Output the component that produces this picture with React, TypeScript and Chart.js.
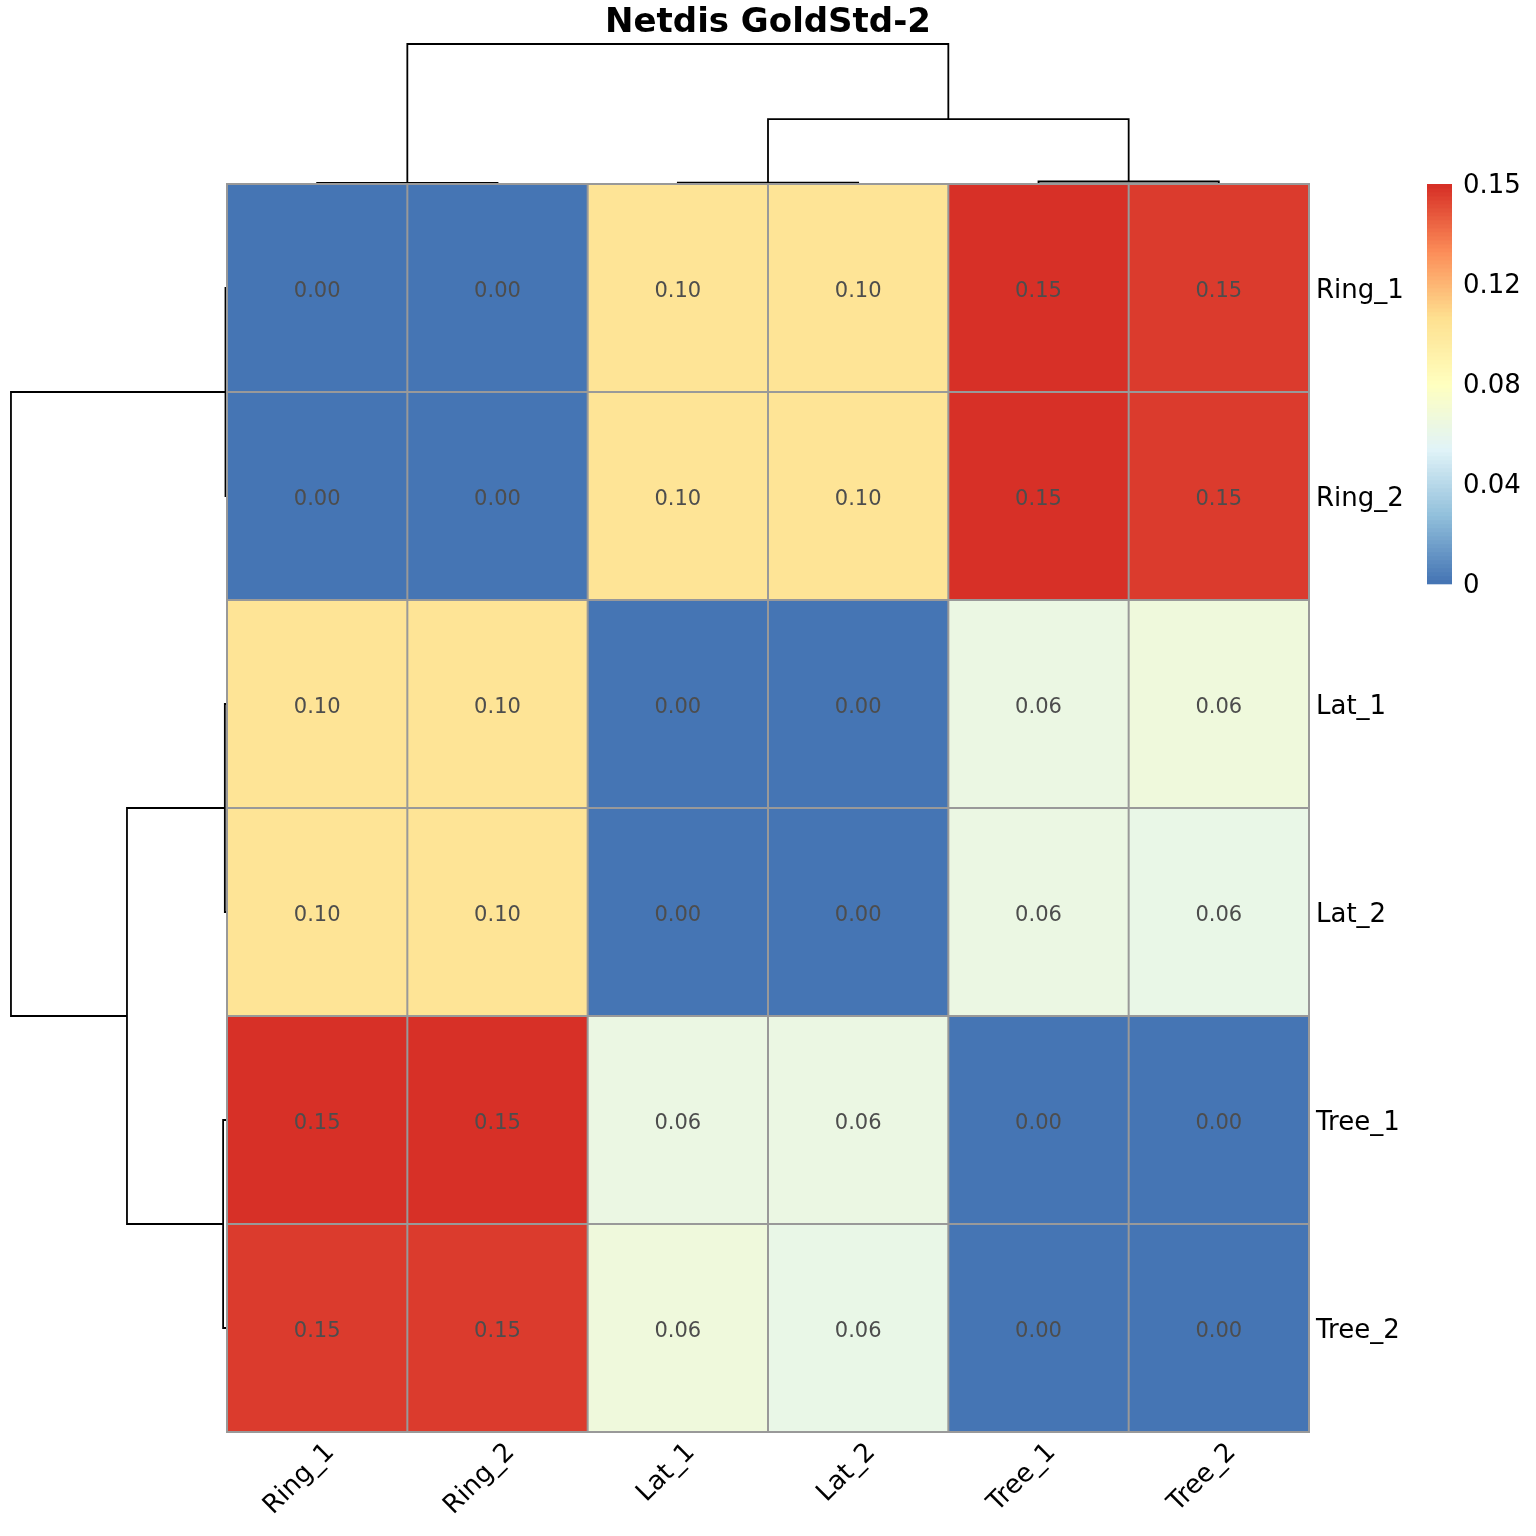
import React, { useEffect, useRef } from "react";
import { Chart, registerables } from "chart.js";

Chart.register(...registerables);

// ---------- data ----------
const title = "Netdis GoldStd-2";
const labels = ["Ring_1", "Ring_2", "Lat_1", "Lat_2", "Tree_1", "Tree_2"];

const ring1 = [0, 0, 0.097, 0.097, 0.15, 0.146];
const ring2 = [0, 0, 0.097, 0.097, 0.15, 0.146];
const lat1 = [0.097, 0.097, 0, 0, 0.0587, 0.0625];
const lat2 = [0.097, 0.097, 0, 0, 0.0588, 0.0578];
const tree1 = [0.15, 0.15, 0.0587, 0.0588, 0, 0];
const tree2 = [0.146, 0.146, 0.0625, 0.0578, 0, 0];
const rows = [ring1, ring2, lat1, lat2, tree1, tree2];

// hclust-style merges: negative = leaf (1-based), positive = earlier merge step (1-based)
const mergeLeft = [-1, -3, -5, 2, 1];
const mergeRight = [-2, -4, -6, 3, 4];
const mergeHeight = [0.007, 0.01, 0.018, 0.463, 1.0];

const legendTickValues = [0, 0.0375, 0.075, 0.1125, 0.15];
const legendTickLabels = ["0", "0.04", "0.08", "0.12", "0.15"];

// ---------- styling ----------
const colorMin = 0;
const colorMax = 0.15;
const palette = ["#4575B4", "#91BFDB", "#E0F3F8", "#FFFFBF", "#FEE090", "#FC8D59", "#D73027"];
const NCOL = 100;
const FONT = '"DejaVu Sans", "Liberation Sans", sans-serif';
const COL_DENDRO_SPAN = 0.673; // y-units for the tallest merge
const ROW_DENDRO_SPAN = 1.198; // x-units for the tallest merge

function hexToRgb(h: string) {
  const n = parseInt(h.slice(1), 16);
  return [(n >> 16) & 255, (n >> 8) & 255, n & 255];
}
const ramp: string[] = (() => {
  const cs = palette.map(hexToRgb);
  const out: string[] = [];
  for (let i = 0; i < NCOL; i++) {
    const t = (i / (NCOL - 1)) * (cs.length - 1);
    const k = Math.min(cs.length - 2, Math.floor(t));
    const f = t - k;
    const c = cs[k].map((v, j) => Math.round(v + (cs[k + 1][j] - v) * f));
    out.push(`rgb(${c[0]},${c[1]},${c[2]})`);
  }
  return out;
})();
function colorFor(v: number) {
  const idx = Math.max(0, Math.min(NCOL - 1, Math.floor(((v - colorMin) / (colorMax - colorMin)) * NCOL)));
  return ramp[idx];
}

type Link = { pl: number; pr: number; hl: number; hr: number; h: number };
function buildLinks(): Link[] {
  const pos: number[] = [];
  const hts: number[] = [];
  const links: Link[] = [];
  const p = (k: number) => (k < 0 ? -k - 1 + 0.5 : pos[k - 1]);
  const hh = (k: number) => (k < 0 ? 0 : hts[k - 1]);
  mergeLeft.forEach((l, i) => {
    const r = mergeRight[i];
    const pl = p(l);
    const pr = p(r);
    pos[i] = (pl + pr) / 2;
    hts[i] = mergeHeight[i];
    links.push({ pl, pr, hl: hh(l), hr: hh(r), h: mergeHeight[i] });
  });
  return links;
}

const overlayPlugin = {
  id: "heatOverlay",
  afterDatasetsDraw(chart: any) {
    const ctx = chart.ctx;
    const xs = chart.scales.x;
    const ys = chart.scales.y;
    const ca = chart.chartArea;
    ctx.save();
    // grid borders
    ctx.strokeStyle = "#999999";
    ctx.lineWidth = 2;
    ctx.beginPath();
    for (let i = 0; i <= labels.length; i++) {
      const px = xs.getPixelForValue(i);
      ctx.moveTo(px, ca.top - 1);
      ctx.lineTo(px, ca.bottom + 1);
      const py = ys.getPixelForValue(i);
      ctx.moveTo(ca.left - 1, py);
      ctx.lineTo(ca.right + 1, py);
    }
    ctx.stroke();
    // cell numbers
    ctx.fillStyle = "#4D4D4D";
    ctx.font = `21px ${FONT}`;
    ctx.textAlign = "center";
    ctx.textBaseline = "middle";
    rows.forEach((row, r) => {
      row.forEach((v, c) => {
        ctx.fillText(v.toFixed(2), xs.getPixelForValue(c + 0.5), ys.getPixelForValue(r + 0.5) + 4);
      });
    });
    ctx.restore();
  },
  afterDraw(chart: any) {
    const ctx = chart.ctx;
    const xs = chart.scales.x;
    const ys = chart.scales.y;
    const ca = chart.chartArea;
    ctx.save();
    // title
    ctx.fillStyle = "#000";
    ctx.font = `bold 34px ${FONT}`;
    ctx.textAlign = "center";
    ctx.textBaseline = "alphabetic";
    ctx.fillText(title, (ca.left + ca.right) / 2, 32);
    // row labels
    ctx.font = `26px ${FONT}`;
    ctx.textAlign = "left";
    ctx.textBaseline = "middle";
    labels.forEach((l, r) => {
      ctx.fillText(l, ca.right + 7, ys.getPixelForValue(r + 0.5) + 3);
    });
    // column labels (rotated 45°)
    labels.forEach((l, c) => {
      ctx.save();
      ctx.translate(xs.getPixelForValue(c + 0.5) + 4, ca.bottom + 7);
      ctx.rotate(-Math.PI / 4);
      ctx.textAlign = "right";
      ctx.textBaseline = "top";
      ctx.fillText(l, 0, 0);
      ctx.restore();
    });
    // colour legend
    const lx = 1427;
    const lw = 25;
    const lTop = ca.top;
    const lBot = ca.top + 400;
    const step = (lBot - lTop) / NCOL;
    for (let i = 0; i < NCOL; i++) {
      ctx.fillStyle = ramp[i];
      const y0 = lBot - (i + 1) * step;
      ctx.fillRect(lx, y0, lw, step + 0.3);
    }
    ctx.fillStyle = "#000";
    ctx.font = `26px ${FONT}`;
    ctx.textAlign = "left";
    ctx.textBaseline = "middle";
    legendTickValues.forEach((v, i) => {
      const y = lBot - ((v - colorMin) / (colorMax - colorMin)) * (lBot - lTop);
      ctx.fillText(legendTickLabels[i], 1463, y + 2);
    });
    ctx.restore();
  },
};

export default function App() {
  const ref = useRef<HTMLCanvasElement | null>(null);
  useEffect(() => {
    if (!ref.current) return;
    const links = buildLinks();
    const cellSets: any[] = rows.map((row, r) => ({
      type: "bar",
      label: labels[r],
      data: row.map((_, c) => ({ x: c + 0.5, y: [r, r + 1] })),
      backgroundColor: row.map((v) => colorFor(v)),
      borderWidth: 0,
      grouped: false,
      barPercentage: 1,
      categoryPercentage: 1,
      order: 2,
    }));
    const lineStyle = {
      type: "line",
      borderColor: "#000000",
      borderWidth: 1.8,
      pointRadius: 0,
      fill: false,
      tension: 0,
      clip: false,
      order: 1,
    };
    const colDendro: any[] = links.map((k) => ({
      ...lineStyle,
      data: [
        { x: k.pl, y: -k.hl * COL_DENDRO_SPAN },
        { x: k.pl, y: -k.h * COL_DENDRO_SPAN },
        { x: k.pr, y: -k.h * COL_DENDRO_SPAN },
        { x: k.pr, y: -k.hr * COL_DENDRO_SPAN },
      ],
    }));
    const rowDendro: any[] = links.map((k) => ({
      ...lineStyle,
      data: [
        { x: -k.hl * ROW_DENDRO_SPAN, y: k.pl },
        { x: -k.h * ROW_DENDRO_SPAN, y: k.pl },
        { x: -k.h * ROW_DENDRO_SPAN, y: k.pr },
        { x: -k.hr * ROW_DENDRO_SPAN, y: k.pr },
      ],
    }));
    const chart = new Chart(ref.current, {
      type: "bar",
      data: { datasets: [...cellSets, ...colDendro, ...rowDendro] },
      options: {
        responsive: false,
        animation: false,
        devicePixelRatio: 1,
        layout: { padding: { left: 227, right: 227, top: 184, bottom: 104 } },
        plugins: { legend: { display: false }, tooltip: { enabled: false }, title: { display: false } },
        scales: {
          x: { type: "linear", min: 0, max: labels.length, offset: false, display: false, ticks: { stepSize: 1 } },
          y: { type: "linear", min: 0, max: labels.length, reverse: true, display: false, ticks: { stepSize: 1 } },
        },
      } as any,
      plugins: [overlayPlugin],
    });
    return () => chart.destroy();
  }, []);
  return (
    <div style={{ position: "absolute", left: 0, top: 0, width: 1536, height: 1536, background: "#fff" }}>
      <canvas ref={ref} width={1536} height={1536} style={{ display: "block", width: 1536, height: 1536 }} />
    </div>
  );
}
